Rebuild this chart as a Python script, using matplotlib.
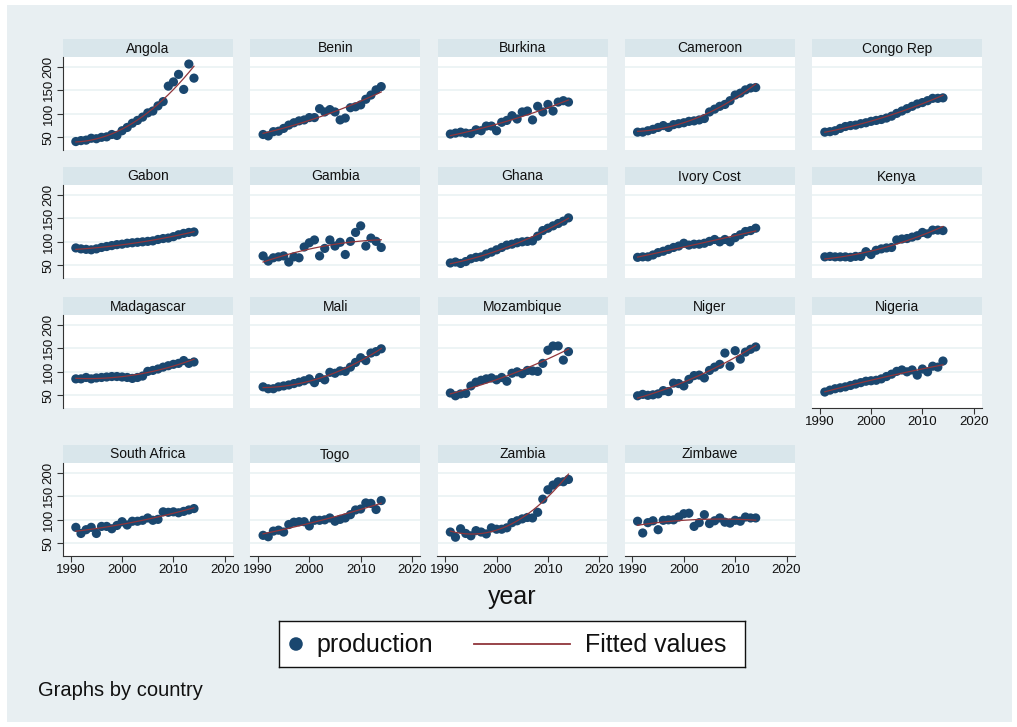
import numpy as np
import matplotlib
matplotlib.use("Agg")
import matplotlib.pyplot as plt
from matplotlib.patches import Rectangle

plt.rcParams['font.family'] = ['Liberation Sans', 'DejaVu Sans']

years = list(range(1991, 2015))
countries = ["Angola", "Benin", "Burkina", "Cameroon", "Congo Rep",
             "Gabon", "Gambia", "Ghana", "Ivory Cost", "Kenya",
             "Madagascar", "Mali", "Mozambique", "Niger", "Nigeria",
             "South Africa", "Togo", "Zambia", "Zimbawe"]

angola = [41, 43, 44, 48, 47, 50, 51, 56, 54, 64, 71, 80, 86, 93, 102, 106, 117, 126, 159, 168, 184, 152, 206, 176]
benin = [56, 53, 62, 63, 69, 76, 81, 85, 87, 92, 92, 111, 104, 109, 104, 87, 91, 113, 115, 119, 131, 140, 151, 158]
burkina = [57, 59, 61, 59, 58, 66, 64, 74, 74, 64, 82, 86, 96, 89, 104, 106, 87, 116, 104, 120, 106, 125, 128, 125]
cameroon = [61, 61, 64, 67, 71, 75, 71, 77, 79, 81, 84, 85, 87, 90, 104, 110, 116, 120, 128, 140, 144, 151, 155, 156]
congo = [61, 62, 64, 69, 73, 75, 76, 79, 81, 84, 86, 88, 91, 95, 101, 106, 111, 116, 121, 124, 128, 133, 133, 134]
gabon = [87, 85, 84, 83, 85, 88, 90, 92, 94, 95, 97, 98, 99, 100, 101, 102, 105, 107, 108, 111, 115, 118, 120, 121]
gambia = [70, 59, 66, 68, 70, 57, 68, 66, 89, 98, 104, 70, 86, 104, 91, 99, 73, 101, 120, 134, 91, 108, 101, 88]
ghana = [55, 57, 54, 58, 64, 67, 68, 74, 78, 83, 88, 93, 95, 98, 100, 101, 102, 112, 124, 129, 134, 139, 144, 151]
ivory = [67, 68, 68, 72, 77, 80, 84, 88, 91, 97, 93, 95, 95, 97, 101, 105, 100, 105, 100, 109, 115, 122, 124, 129]
kenya = [68, 69, 68, 68, 68, 67, 69, 69, 79, 73, 82, 85, 87, 88, 104, 106, 107, 110, 113, 120, 117, 125, 125, 124]
madagascar = [85, 85, 88, 85, 87, 88, 89, 90, 90, 89, 88, 86, 88, 91, 101, 103, 106, 110, 113, 116, 118, 124, 118, 121]
mali = [68, 64, 64, 68, 70, 72, 75, 78, 81, 85, 77, 88, 83, 99, 97, 102, 101, 110, 120, 130, 124, 140, 143, 149]
mozambique = [55, 49, 53, 54, 70, 78, 82, 85, 87, 83, 88, 80, 97, 100, 96, 103, 102, 101, 118, 146, 155, 155, 125, 143]
niger = [49, 52, 50, 51, 53, 60, 58, 76, 75, 70, 84, 92, 93, 87, 103, 110, 116, 140, 112, 145, 127, 142, 148, 153]
nigeria = [57, 61, 64, 66, 68, 71, 74, 77, 80, 81, 82, 85, 90, 95, 101, 104, 100, 104, 93, 106, 100, 112, 110, 123]
south_africa = [84, 71, 79, 84, 71, 86, 86, 81, 88, 96, 89, 97, 97, 99, 104, 99, 101, 117, 116, 117, 115, 118, 121, 124]
togo = [67, 64, 76, 78, 74, 90, 95, 96, 96, 87, 99, 99, 100, 104, 97, 101, 104, 111, 121, 123, 136, 135, 122, 141]
zambia = [74, 63, 81, 71, 66, 77, 74, 70, 83, 80, 80, 83, 94, 98, 102, 105, 104, 116, 144, 164, 174, 181, 181, 186]
zimbabwe = [97, 72, 94, 98, 79, 99, 100, 100, 106, 113, 114, 86, 94, 111, 92, 98, 104, 95, 93, 99, 97, 106, 104, 104]

production = [angola, benin, burkina, cameroon, congo, gabon, gambia, ghana, ivory, kenya,
              madagascar, mali, mozambique, niger, nigeria, south_africa, togo, zambia, zimbabwe]

yticks = [50, 100, 150, 200]
xticks = [1990, 2000, 2010, 2020]

W, H = 1017, 727
fig = plt.figure(figsize=(W / 100, H / 100), dpi=100)
fig.patch.set_facecolor('white')

def fx(px):
    return px / W

def fy(py):
    return 1 - py / H

# outer background
fig.patches.append(Rectangle((fx(7), fy(722)), fx(1012 - 7), (722 - 5) / H,
                             transform=fig.transFigure, facecolor='#e8eff2',
                             edgecolor='none', zorder=-10))

navy = '#1a476f'
maroon = '#90353b'
header_tops = [39, 167, 297, 445]
col_left0 = 63
col_pitch = 187.25
pw = 170
hh = 18
ph = 93

for i, (name, vals) in enumerate(zip(countries, production)):
    r, c = divmod(i, 5)
    left = col_left0 + c * col_pitch
    top = header_tops[r]
    # header
    fig.patches.append(Rectangle((fx(left), fy(top + hh)), pw / W, hh / H,
                                 transform=fig.transFigure, facecolor='#d9e6eb',
                                 edgecolor='none', zorder=-5))
    fig.text(fx(left + pw / 2), fy(top + hh / 2 + 0.5), name, ha='center', va='center',
             fontsize=10, color='#111111')
    ax = fig.add_axes([fx(left), fy(top + hh + ph), pw / W, ph / H])
    ax.set_zorder(1)
    ax.set_facecolor('white')
    ax.set_xlim(1988.5, 2021.6)
    ax.set_ylim(23, 221)
    ax.set_yticks(yticks)
    ax.set_xticks(xticks)
    for yv in yticks:
        ax.axhline(yv, color='#eaf2f3', lw=1.2, zorder=0)
    yrs = np.array(years, dtype=float)
    v = np.array(vals, dtype=float)
    coef = np.polyfit(yrs - 2000, v, 2)
    ax.plot(yrs, np.polyval(coef, yrs - 2000), color=maroon, lw=0.9, zorder=3)
    ax.scatter(yrs, v, s=44, color=navy, edgecolors='none', zorder=2)
    for s in ['top', 'right']:
        ax.spines[s].set_visible(False)
    show_y = (c == 0)
    show_x = (r == 3) or (name == 'Nigeria')
    ax.spines['left'].set_visible(show_y)
    ax.spines['bottom'].set_visible(show_x)
    ax.spines['left'].set_color('#333333')
    ax.spines['bottom'].set_color('#333333')
    ax.tick_params(axis='y', left=show_y, labelleft=show_y, length=4, width=0.8,
                   color='#333333', labelsize=9.5, pad=2, labelcolor='#111111')
    ax.tick_params(axis='x', bottom=show_x, labelbottom=show_x, length=4, width=0.8,
                   color='#333333', labelsize=9.5, pad=2, labelcolor='#111111')
    if show_y:
        for lab in ax.get_yticklabels():
            lab.set_rotation(90)
            lab.set_va('center')

fig.text(fx(512), fy(597), 'year', ha='center', va='center', fontsize=18, color='#111111')

# legend
lax = fig.add_axes([fx(279), fy(667), (745 - 279) / W, (667 - 621) / H])
lax.set_zorder(1)
lax.set_xlim(279, 745)
lax.set_ylim(0, 1)
lax.set_xticks([])
lax.set_yticks([])
lax.set_facecolor('white')
for s in lax.spines.values():
    s.set_color('#111111')
    s.set_linewidth(1.0)
lax.scatter([296], [0.5], s=95, color=navy, edgecolors='none')
lax.text(316, 0.47, 'production', va='center', ha='left', fontsize=18, color='#111111')
lax.plot([474, 570], [0.5, 0.5], color=maroon, lw=1.3)
lax.text(585, 0.47, 'Fitted values', va='center', ha='left', fontsize=18, color='#111111')

fig.text(fx(38), fy(690), 'Graphs by country', ha='left', va='center', fontsize=14.5, color='#111111')

fig.savefig('out.png', dpi=100)
